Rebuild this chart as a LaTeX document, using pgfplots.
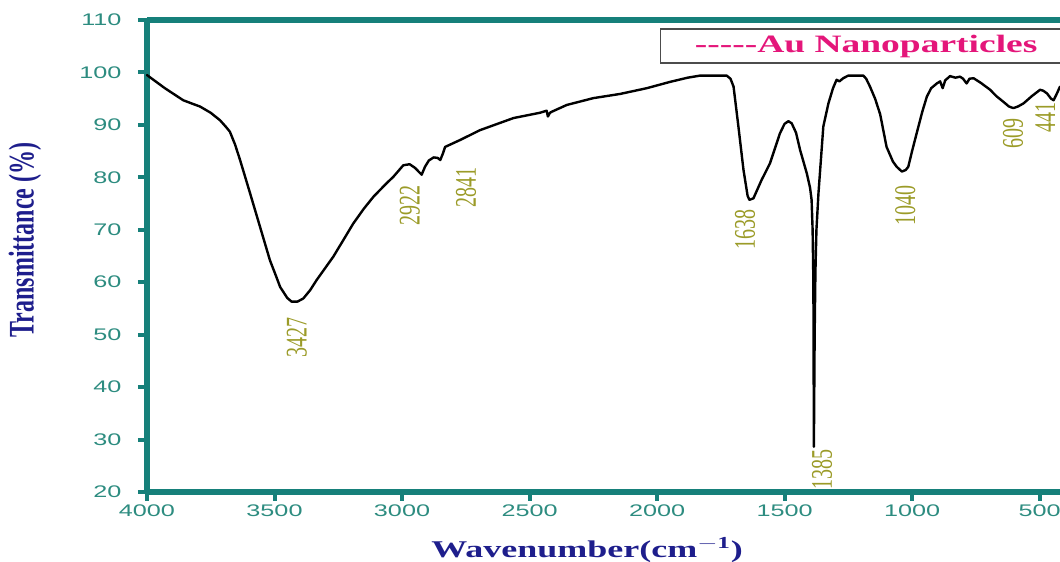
\documentclass[border=0pt]{standalone}
\usepackage{pgfplots}
\pgfplotsset{compat=1.18}
\usepackage{fontspec}
\setmainfont{Liberation Serif}
\newfontfamily\sansf{Liberation Sans}
\usepackage{graphicx}
\definecolor{axteal}{RGB}{22,128,122}
\definecolor{tickteal}{RGB}{45,140,128}
\definecolor{navy}{RGB}{30,30,140}
\definecolor{magen}{RGB}{228,22,122}
\definecolor{olive}{RGB}{155,155,40}
\newcommand{\tl}[1]{\scalebox{1.5}[1]{#1}}
\newcommand{\tly}[1]{\scalebox{1.5}[1]{#1}\hspace*{13pt}}
\newcommand{\pk}[1]{\scalebox{1.5}[1]{\rotatebox{90}{\fontsize{20}{22}\selectfont #1}}}
\pgfplotstableread{
w T
4000 99.5
3930 97.0
3858 94.7
3820 94.0
3792 93.5
3750 92.3
3714 90.9
3690 89.6
3675 88.7
3655 86.3
3635 83.3
3596 77.0
3557 70.6
3518 64.2
3495 61.3
3478 59.1
3450 57.0
3433 56.3
3410 56.3
3387 56.9
3360 58.5
3335 60.4
3269 64.9
3191 71.2
3150 74.0
3112 76.3
3060 78.9
3034 80.1
2995 82.3
2970 82.5
2949 81.8
2935 81.1
2923 80.5
2910 82.0
2895 83.2
2876 83.8
2860 83.7
2850 83.3
2840 84.5
2831 85.8
2773 87.1
2694 89.0
2563 91.3
2460 92.3
2433 92.7
2428 91.6
2420 92.3
2413 92.5
2354 93.8
2250 95.1
2145 95.9
2040 97.0
1949 98.2
1880 99.0
1831 99.4
1727 99.4
1712 98.8
1700 97.3
1681 89.7
1661 81.4
1645 76.5
1638 75.7
1622 76.0
1590 79.5
1557 82.7
1518 88.4
1500 90.2
1485 90.7
1472 90.3
1455 88.5
1439 85.2
1413 80.8
1400 78.0
1394 75.7
1390 70
1387 60
1385 28.6
1382 50
1379 62
1375 70
1367 77.0
1348 89.7
1328 94.1
1310 97.0
1296 98.6
1285 98.3
1270 98.9
1250 99.4
1191 99.4
1180 98.8
1165 97.3
1145 95.0
1125 92.0
1100 85.8
1075 83.0
1060 82.0
1040 81.1
1025 81.4
1015 82.0
1000 85.0
982 88.4
960 92.5
942 95.4
925 97.0
903 97.9
890 98.3
880 97.0
870 98.5
851 99.3
830 99.0
812 99.2
800 98.8
786 97.9
775 98.8
759 98.9
730 98.0
694 96.7
670 95.5
642 94.4
620 93.5
603 93.2
585 93.5
563 94.1
530 95.5
498 96.7
485 96.5
471 96.0
455 95.0
445 94.7
432 96.0
420 97.3
}\spectrum
\begin{document}
\begin{tikzpicture}
\begin{axis}[
  scale only axis,
  width=913pt, height=472pt,
  xmin=420, xmax=4000, ymin=20, ymax=110,
  x dir=reverse,
  axis x line=box, axis y line=left,
  axis line style={-, draw=axteal, line width=6pt},
  xtick pos=left, ytick pos=left,
  tick align=outside,
  major tick length=9pt,
  major tick style={draw=axteal, line width=4pt},
  xtick={4000,3500,3000,2500,2000,1500,1000,500},
  xticklabels={\tl{4000},\tl{3500},\tl{3000},\tl{2500},\tl{2000},\tl{1500},\tl{1000},\tl{500}},
  ytick={20,30,40,50,60,70,80,90,100,110},
  yticklabels={\tly{20},\tly{30},\tly{40},\tly{50},\tly{60},\tly{70},\tly{80},\tly{90},\tly{100},\tly{110}},
  ticklabel style={font=\sansf\fontsize{16.8}{18}\selectfont, text=tickteal},
  xlabel={\scalebox{1.5}[1]{Wavenumber(cm$^{\mathbf{-1}}$)}},
  ylabel={\scalebox{1.5}[1]{\rotatebox{90}{Transmittance (\%)}}},
  every axis x label/.style={at={(axis description cs:0.482,-0.123)}, anchor=center, font=\bfseries\fontsize{24}{26}\selectfont, text=navy},
  every axis y label/.style={at={(axis description cs:-0.1336,0.534)}, anchor=center, font=\bfseries\fontsize{24}{26}\selectfont, text=navy},
  clip=false,
]
\addplot[black, line width=2.4pt, line join=round, line cap=round] table[x=w, y=T] {\spectrum};
\draw[black!70, line width=1.2pt] (axis cs:1988,101.8) rectangle (axis cs:250,108.28);
\node[text=magen, font=\bfseries\fontsize{25}{27}\selectfont] at (axis cs:1180,105.04) {\scalebox{1.5}[1]{-{}-{}-{}-{}-Au Nanoparticles}};
\node[text=olive, inner sep=0pt] at (axis cs:3412,49.4) {\pk{3427}};
\node[text=olive, inner sep=0pt] at (axis cs:2969,74.7) {\pk{2922}};
\node[text=olive, inner sep=0pt] at (axis cs:2749,78.0) {\pk{2841}};
\node[text=olive, inner sep=0pt] at (axis cs:1655,70.0) {\pk{1638}};
\node[text=olive, inner sep=0pt] at (axis cs:1353,24.2) {\pk{1385}};
\node[text=olive, inner sep=0pt] at (axis cs:1027,74.7) {\pk{1040}};
\node[text=olive, inner sep=0pt] at (axis cs:604,88.3) {\pk{609}};
\node[text=olive, inner sep=0pt] at (axis cs:478,91.5) {\pk{441}};
\end{axis}
\pgfresetboundingbox
\path[use as bounding box] ([xshift=-147pt,yshift=-70pt]current axis.south west) rectangle ([yshift=20pt]current axis.north east);
\end{tikzpicture}
\end{document}
